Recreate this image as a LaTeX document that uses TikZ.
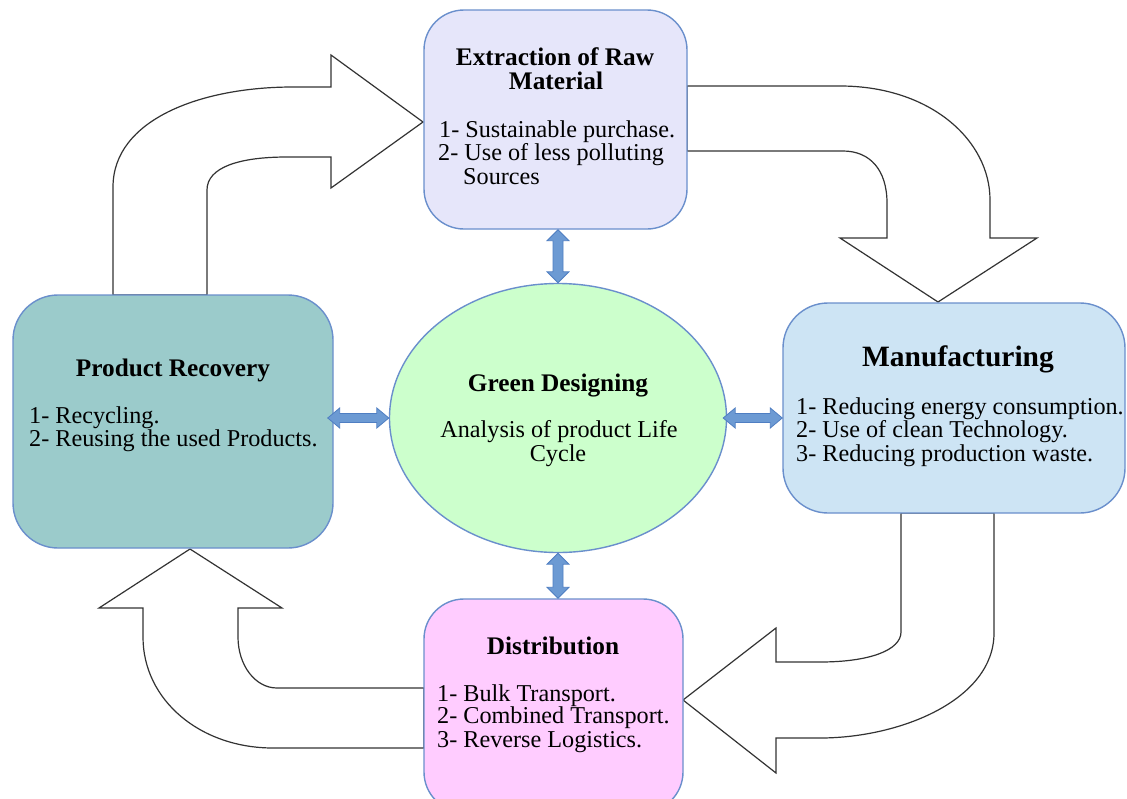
\documentclass[tikz,border=0pt]{standalone}
\usepackage{fontspec}
\setmainfont{Liberation Serif}
\usetikzlibrary{calc,shapes.geometric}
\definecolor{bordblue}{HTML}{6A8FCC}
\definecolor{extfill}{HTML}{E6E6FA}
\definecolor{manfill}{HTML}{CDE4F4}
\definecolor{recfill}{HTML}{9BCBCB}
\definecolor{disfill}{HTML}{FFCCFF}
\definecolor{gdfill}{HTML}{CCFFCC}
\definecolor{dblfill}{HTML}{6C9AD3}
\definecolor{dbldraw}{HTML}{4F7EC2}
\definecolor{bentdraw}{HTML}{333333}
\begin{document}
\begin{tikzpicture}[x=1pt,y=-1pt,
 box/.style={draw=bordblue, line width=1.4pt, rounded corners=40pt, inner sep=0pt},
 body/.style={inner sep=0pt, anchor=base west, font=\fontsize{24.2}{24}\selectfont},
 ttl/.style={inner sep=0pt, anchor=base, font=\fontsize{25.3}{26}\selectfont\bfseries},
 bent/.style={draw=bentdraw, fill=white, line width=1.2pt, line join=miter},
 dbl/.style={draw=dbldraw, fill=dblfill, line width=0.8pt, line join=miter}]
\useasboundingbox (0,0) rectangle (1127,798);
\clip (0,0) rectangle (1127,798);
\fill[white] (0,0) rectangle (1127,798);

% bent block arrows
\draw[bent] (113,295) -- (113,187) .. controls (113,120) and (200,87) .. (293,87)
  -- (331,87) -- (331,55) -- (423,122) -- (331,188) -- (331,157) -- (287,157)
  .. controls (240,157) and (207,167) .. (207,190) -- (207,295) -- cycle;
\draw[bent] (687,86) -- (840,86) .. controls (930,86) and (990,140) .. (990,200)
  -- (990,238) -- (1037,238) -- (938,302) -- (840,238) -- (887,238) -- (887,203)
  .. controls (887,170) and (870,151) .. (843,151) -- (687,151) -- cycle;
\draw[bent] (994,513) -- (994,633) .. controls (994,700) and (900,738) .. (820,738)
  -- (776,738) -- (776,773) -- (683,700) -- (776,628) -- (776,662) -- (820,662)
  .. controls (870,662) and (901,650) .. (901,632) -- (901,513) -- cycle;
\draw[bent] (424,688) -- (277,688) .. controls (255,688) and (238,665) .. (238,637)
  -- (238,608) -- (282,608) -- (190,549) -- (99,608) -- (143,608) -- (143,637)
  .. controls (143,700) and (200,748) .. (273,748) -- (424,748) -- cycle;

% boxes
\node[box, fill=extfill, minimum width=263pt, minimum height=219pt] (ext) at (555.5,119.5) {};
\node[box, fill=manfill, minimum width=342pt, minimum height=210pt, rounded corners=45pt] (man) at (954,408) {};
\node[box, fill=recfill, minimum width=320pt, minimum height=253pt, rounded corners=45pt] (rec) at (173,421.5) {};
\node[box, fill=disfill, minimum width=259pt, minimum height=213pt] (dist) at (553.5,705.5) {};
\node[draw=bordblue, line width=1.4pt, fill=gdfill, ellipse, inner sep=0pt, minimum width=337pt, minimum height=269pt] (gd) at (558,418) {};

% double arrows
\draw[dbl] let \p1=(ext.south), \p2=(gd.north) in
 (\x2,\y1) -- (\x2+11pt,\y1-11pt) -- (\x2+5pt,\y1-11pt) -- (\x2+5pt,\y2+11pt) -- (\x2+11pt,\y2+11pt)
 -- (\x2,\y2) -- (\x2-11pt,\y2+11pt) -- (\x2-5pt,\y2+11pt) -- (\x2-5pt,\y1-11pt) -- (\x2-11pt,\y1-11pt) -- cycle;
\draw[dbl] let \p1=(gd.south), \p2=(dist.north) in
 (\x1,\y1) -- (\x1+11pt,\y1-11pt) -- (\x1+5pt,\y1-11pt) -- (\x1+5pt,\y2+11pt) -- (\x1+11pt,\y2+11pt)
 -- (\x1,\y2) -- (\x1-11pt,\y2+11pt) -- (\x1-5pt,\y2+11pt) -- (\x1-5pt,\y1-11pt) -- (\x1-11pt,\y1-11pt) -- cycle;
\draw[dbl] let \p1=(rec.east), \p2=(gd.west) in
 (\x1-6pt,\y2) -- (\x1+6pt,\y2+10pt) -- (\x1+6pt,\y2+4.5pt) -- (\x2-12pt,\y2+4.5pt) -- (\x2-12pt,\y2+10pt)
 -- (\x2,\y2) -- (\x2-12pt,\y2-10pt) -- (\x2-12pt,\y2-4.5pt) -- (\x1+6pt,\y2-4.5pt) -- (\x1+6pt,\y2-10pt) -- cycle;
\draw[dbl] let \p1=(gd.east), \p2=(man.west) in
 (\x1-4pt,\y1) -- (\x1+8pt,\y1+10pt) -- (\x1+8pt,\y1+4.5pt) -- (\x2-12pt,\y1+4.5pt) -- (\x2-12pt,\y1+10pt)
 -- (\x2,\y1) -- (\x2-12pt,\y1-10pt) -- (\x2-12pt,\y1-4.5pt) -- (\x1+8pt,\y1-4.5pt) -- (\x1+8pt,\y1-10pt) -- cycle;

% texts
\node[ttl] (extT1) at (555,65) {Extraction of Raw};
\node[ttl] (extT2) at (556,89) {Material};
\node[body] (ext1) at (439,137) {1- Sustainable purchase.};
\node[body] (ext2) at (438,160) {2- Use of less polluting};
\node[body] (ext3) at (463,184) {Sources};

\node[ttl] (recT) at (173,376) {Product Recovery};
\node[body] (rec1) at (29,423) {1- Recycling.};
\node[body] (rec2) at (29,446) {2- Reusing the used Products.};

\node[ttl, font=\fontsize{29.5}{30}\selectfont\bfseries] (manT) at (958,366) {Manufacturing};
\node[body] (man1) at (796,414) {1- Reducing energy consumption.};
\node[body] (man2) at (796,437) {2- Use of clean Technology.};
\node[body] (man3) at (796,461) {3- Reducing production waste.};

\node[ttl] (distT) at (553,654) {Distribution};
\node[body] (dist1) at (437,701) {1- Bulk Transport.};
\node[body] (dist2) at (437,723) {2- Combined Transport.};
\node[body] (dist3) at (437,747) {3- Reverse Logistics.};

\node[ttl] (gdT) at (558,391) {Green Designing};
\node[ttl, font=\fontsize{24.2}{24}\selectfont] (gd1) at (559,437) {Analysis of product Life};
\node[ttl, font=\fontsize{24.2}{24}\selectfont] (gd2) at (558,461) {Cycle};
\end{tikzpicture}
\end{document}
